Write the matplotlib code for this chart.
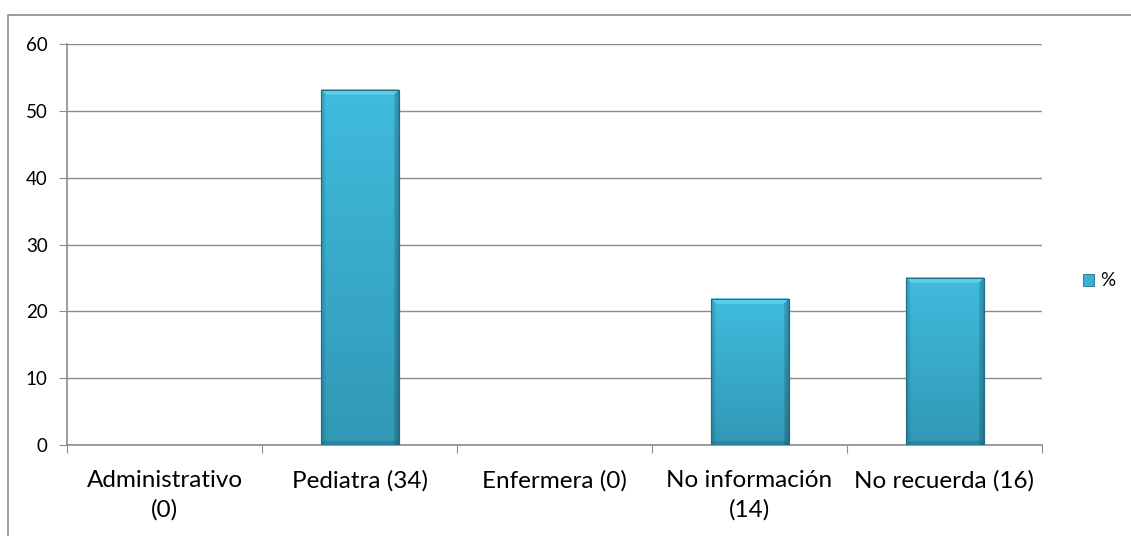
import matplotlib
matplotlib.use("Agg")
import matplotlib.pyplot as plt
import numpy as np
from matplotlib.patches import Rectangle

categories = ["Administrativo\n(0)", "Pediatra (34)", "Enfermera (0)", "No información\n(14)", "No recuerda (16)"]
values = [0, 53.125, 0, 21.875, 25.0]
series_name = "%"
yticks = [0, 10, 20, 30, 40, 50, 60]

plt.rcParams['font.family'] = ['Lato', 'DejaVu Sans']

W, H = 1131, 536
fig = plt.figure(figsize=(W/100, H/100), dpi=100)
fig.add_artist(Rectangle((8/W, -0.1), 1.2, 1 - 15/H + 0.1, transform=fig.transFigure,
                         fill=False, edgecolor='#8c8c8c', linewidth=1.2))

ax = fig.add_axes([67/W, 1 - 445/H, (1042-67)/W, (445-44)/H])
x = list(range(len(categories)))
bars = ax.bar(x, values, width=0.4, color='#3DB7D9', edgecolor='#1E6E86', linewidth=0.8, zorder=3, label=series_name)
ax.set_xlim(-0.5, len(categories) - 0.5)
ax.set_ylim(0, 60)

# bevel/gradient fill for each bar
top_c = np.array([0x40, 0xBC, 0xDD]) / 255
bot_c = np.array([0x31, 0x98, 0xB6]) / 255
light = np.array([0x6A, 0xD4, 0xEC]) / 255
for b in bars:
    h = b.get_height()
    if h <= 0:
        b.set_visible(False)
        continue
    x0, w = b.get_x(), b.get_width()
    p0 = ax.transData.transform((x0, 0))
    p1 = ax.transData.transform((x0 + w, h))
    wp = int(round(p1[0] - p0[0]))
    hp = abs(int(round(p1[1] - p0[1])))
    t = np.linspace(0, 1, hp)[:, None, None]
    img = top_c * (1 - t) + bot_c * t
    img = np.repeat(img, wp, axis=1)
    bev = 6
    for i in range(bev):
        img[i, i:wp - i] = light * (1 - i / (bev * 2.0)) + top_c * (i / (bev * 2.0))
    side = 5
    for j in range(side):
        f = 0.82 + 0.035 * j
        img[j + 1:, j] = img[j + 1:, j] * f
        img[j + 1:, wp - 1 - j] = img[j + 1:, wp - 1 - j] * (f - 0.08)
    for i in range(4):
        img[hp - 1 - i, i:wp - i] *= 0.88
    ax.imshow(img, extent=[x0, x0 + w, 0, h], aspect='auto', zorder=3.5, interpolation='nearest')
    ax.add_patch(Rectangle((x0, 0), w, h, fill=False, edgecolor='#1E6E86', linewidth=0.8, zorder=4))
ax.set_xlim(-0.5, len(categories) - 0.5)
ax.set_ylim(0, 60)

ax.set_yticks(yticks)
ax.set_yticklabels([str(t) for t in yticks], fontsize=13.5)
ax.grid(axis='y', color='#8c8c8c', linewidth=1.0, zorder=0)
ax.set_xticks([i - 0.5 for i in range(len(categories) + 1)])
ax.set_xticklabels([])
ax.set_xticks(x, minor=True)
ax.set_xticklabels(categories, minor=True, fontsize=17.5, linespacing=1.45)
ax.tick_params(axis='x', which='minor', length=0, pad=18)
ax.tick_params(axis='x', which='major', length=6, color='#8c8c8c')
ax.tick_params(axis='y', length=6, color='#8c8c8c', pad=8)
for s in ['top', 'right']:
    ax.spines[s].set_visible(False)
for s in ['left', 'bottom']:
    ax.spines[s].set_color('#8c8c8c')
    ax.spines[s].set_linewidth(1.2)

leg = fig.legend(handles=[Rectangle((0, 0), 1, 1, facecolor='#3AB2D3', edgecolor='#1E6E86', linewidth=0.6)],
                 labels=[series_name], loc='center left', bbox_to_anchor=(1066/W, 1 - 281/H), frameon=False,
                 fontsize=13.5, handlelength=0.6, handleheight=0.6, handletextpad=0.3)

fig.savefig("out.png", dpi=100)
